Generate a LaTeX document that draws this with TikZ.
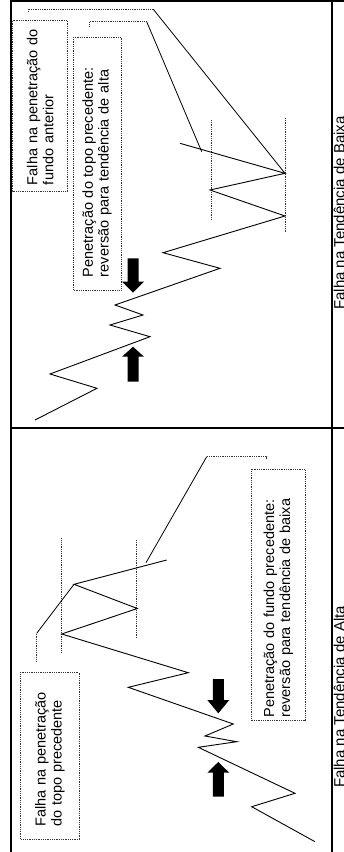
\documentclass[tikz,border=0pt]{standalone}
\usepackage{fontspec}
\setmainfont{Liberation Sans}
\begin{document}
\begin{tikzpicture}[x=1pt,y=-1pt,
  frame/.style={line width=2.4pt},
  zig/.style={line width=0.9pt, line join=miter},
  dotln/.style={line width=0.9pt, dash pattern=on 0.9pt off 0.9pt, black!80},
  lead/.style={line width=0.8pt},
  box/.style={draw, line width=0.9pt, dash pattern=on 0.9pt off 0.9pt, black!80, text=black,
     rotate=90, align=left, font=\fontsize{14.5}{16}\selectfont, inner ysep=0pt},
  captxt/.style={rotate=90, font=\fontsize{15}{18}\selectfont, inner sep=0pt},
  blk/.style={fill=black, draw=none}]
\useasboundingbox (0,0) rectangle (344,852);
% frame
\draw[frame] (11,0) -- (11,852);
\draw[frame] (332,0) -- (332,852);
\draw[frame] (11,1.2) -- (344,1.2);
\draw[frame] (11,428) -- (344,428);
% captions
\node[captxt, anchor=north] (capB) at (333.6,213) {Falha na Tendência de Baixa};
\node[captxt, anchor=north] (capA) at (333.6,697) {Falha na Tendência de Alta};

% ---------- top panel ----------
\node[box, minimum width=171pt, minimum height=55pt, inner xsep=6.7pt, text width=157.6pt]
  (b1) at (40.2,106.2) {Falha na penetração do\\fundo anterior};
\node[box, minimum width=253pt, minimum height=48pt, inner xsep=13pt, text width=227pt]
  (b2) at (97,163.5) {Penetração do topo precedente:\\reversão para tendência de alta};
% reference dotted lines
\coordinate (r1a) at (211.7,120); \coordinate (r1b) at (211.7,220);
\coordinate (r2a) at (285,118);   \coordinate (r2b) at (285,233);
\draw[dotln] (r1a) -- (r1b);
\draw[dotln] (r2a) -- (r2b);
% zigzag
\coordinate (P0) at (35,420);
\coordinate (P1) at (97,388.3);
\coordinate (P2) at (50,374);
\coordinate (P3) at (150,336.7);
\coordinate (P4) at (110,325);
\coordinate (P5) at (143,315);
\coordinate (P6) at (115,305);
\coordinate (P7) at (220,268.3);
\coordinate (P8) at (163,252.7);
\coordinate (P9) at (285,216);
\coordinate (P10) at (210,190);
\coordinate (P11) at (285,173.3);
\coordinate (P12) at (180,143.3);
\draw[zig] (P0) -- (P1) -- (P2) -- (P3) -- (P4) -- (P5) -- (P6) -- (P7) -- (P8) -- (P9) -- (P10) -- (P11) -- (P12);
% leaders
\coordinate (la0) at (28.3,12); \coordinate (la1) at (28.3,9.3); \coordinate (la2) at (153.3,9.3);
\draw[dotln] (la0) -- (la1) -- (la2);
\draw[lead] (la2) -- (P11);
\coordinate (lb0) at (89.3,26.7); \coordinate (lb1) at (89.3,21.7); \coordinate (lb2) at (146.7,21.7);
\coordinate (lbt) at (201.7,151.7);
\draw[dotln] (lb0) -- (lb1) -- (lb2);
\draw[lead] (lb2) -- (lbt);
% arrows
\fill[blk] (127.5,258.3) -- (138.5,258.3) -- (138.5,281.7) -- (144,281.7) -- (133,292.7) -- (122,281.7) -- (127.5,281.7) -- cycle;
\fill[blk] (127.5,381.7) -- (138.5,381.7) -- (138.5,356.7) -- (144,356.7) -- (133,346.7) -- (122,356.7) -- (127.5,356.7) -- cycle;

% ---------- bottom panel ----------
\node[box, minimum width=251.4pt, minimum height=53.3pt, inner xsep=3.5pt, text width=244.4pt]
  (b3) at (278.3,595) {Penetração do fundo precedente:\\reversão para tendência de baixa};
\node[box, minimum width=166.7pt, minimum height=58.3pt, inner xsep=12.3pt, text width=142.1pt]
  (b4) at (49.8,755.7) {Falha na penetração\\do topo precedente};
\coordinate (s1a) at (61.7,538.3); \coordinate (s1b) at (61.7,653.3);
\coordinate (s2a) at (136.7,540);  \coordinate (s2b) at (136.7,637.3);
\draw[dotln] (s1a) -- (s1b);
\draw[dotln] (s2a) -- (s2b);
\coordinate (Q0) at (166.7,560);
\coordinate (Q1) at (74,584.3);
\coordinate (Q2) at (137.3,608.5);
\coordinate (Q3) at (61.7,634);
\coordinate (Q4) at (188.3,672.7);
\coordinate (Q5) at (128.3,687.3);
\coordinate (Q6) at (233.3,724);
\coordinate (Q7) at (205,736);
\coordinate (Q8) at (236.7,741.7);
\coordinate (Q9) at (198.3,747.3);
\coordinate (Q10) at (295,793.3);
\coordinate (Q11) at (251.7,806.7);
\coordinate (Q12) at (315,841.7);
\draw[zig] (Q0) -- (Q1) -- (Q2) -- (Q3) -- (Q4) -- (Q5) -- (Q6) -- (Q7) -- (Q8) -- (Q9) -- (Q10) -- (Q11) -- (Q12);
\coordinate (lc0) at (266.7,459.3); \coordinate (lc1) at (266.7,456.7); \coordinate (lc2) at (206.7,456.7);
\coordinate (lct) at (146,562.7);
\draw[dotln] (lc0) -- (lc1) -- (lc2);
\draw[lead] (lc2) -- (lct);
\coordinate (ld0) at (36.7,661.7); \coordinate (ld1) at (36.7,633.3);
\draw[dotln] (ld0) -- (ld1);
\draw[lead] (ld1) -- (Q1);
\fill[blk] (212.8,679) -- (223.8,679) -- (223.8,700) -- (229.3,700) -- (218.3,713.3) -- (207.3,700) -- (212.8,700) -- cycle;
\fill[blk] (212.8,796.7) -- (223.8,796.7) -- (223.8,772.7) -- (229.3,772.7) -- (218.3,762) -- (207.3,772.7) -- (212.8,772.7) -- cycle;
\end{tikzpicture}
\end{document}
